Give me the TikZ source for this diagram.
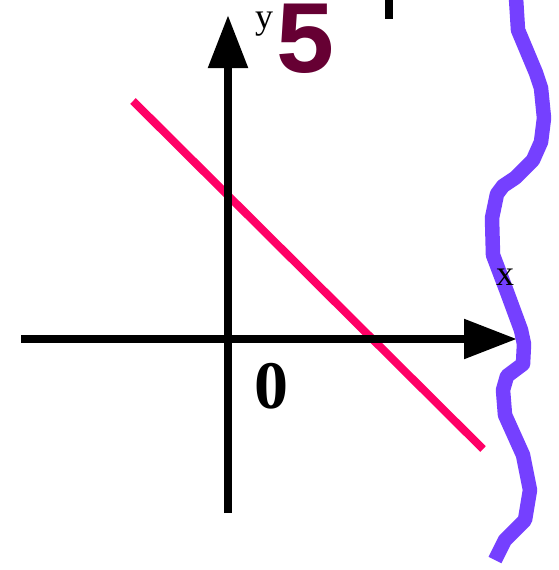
\documentclass[tikz,border=0pt]{standalone}
\usepackage{fontspec}
\setmainfont{Liberation Serif}
\newfontfamily\monofnt{Liberation Mono}
\usetikzlibrary{arrows.meta}
\definecolor{pinkline}{RGB}{255,0,102}
\definecolor{purpleline}{RGB}{117,64,255}
\definecolor{maroon}{RGB}{102,0,51}
\tikzset{
  axis/.style={line width=8.5pt, -{Triangle[length=53pt,width=38pt]}},
  lbl/.style={inner sep=0pt, anchor=base},
}
\begin{document}
\begin{tikzpicture}[x=1pt,y=-1pt]
\useasboundingbox (0,0) rectangle (558,570);
% coordinates
\coordinate (pinkA) at (133,101);
\coordinate (pinkB) at (483,449);
\coordinate (xL) at (21,339);
\coordinate (xR) at (517,339);
\coordinate (yB) at (228,513);
\coordinate (yT) at (228,15);
\coordinate (tickT) at (389,0);
\coordinate (tickB) at (389,19);
% red line
\draw[pinkline, line width=8pt] (pinkA) -- (pinkB);
% axes
\draw[axis] (xL) -- (xR);
\draw[axis] (yB) -- (yT);
\draw[line width=8pt] (tickT) -- (tickB);
% wavy purple line
\draw[purpleline, line width=14.5pt, line join=round]
  (516,-2) -- (518,30) -- (536,73) -- (541,88) -- (544,118) -- (541,142)
  -- (533,160) -- (515,178) -- (503,186) -- (497,194) -- (492,218) -- (493,255)
  -- (507,292) -- (521,330) -- (524,344) -- (523,364) -- (507,376) -- (503,390)
  -- (505,415) -- (523,455) -- (530,490) -- (525,520) -- (505,540) -- (495,560);
% labels
\node[lbl, font=\fontsize{36}{36}\selectfont] (ylab) at (264,28) {y};
\node[lbl, font=\fontsize{36}{36}\selectfont] (xlab) at (505,285) {x};
\node[lbl, font=\fontsize{68}{68}\selectfont\bfseries] (zero) at (271.5,408) {0};
\node[lbl, text height=62pt, text depth=0pt, font=\fontsize{104}{104}\selectfont\monofnt\bfseries, text=maroon] (five) at (305.5,72) {5};
\end{tikzpicture}
\end{document}
